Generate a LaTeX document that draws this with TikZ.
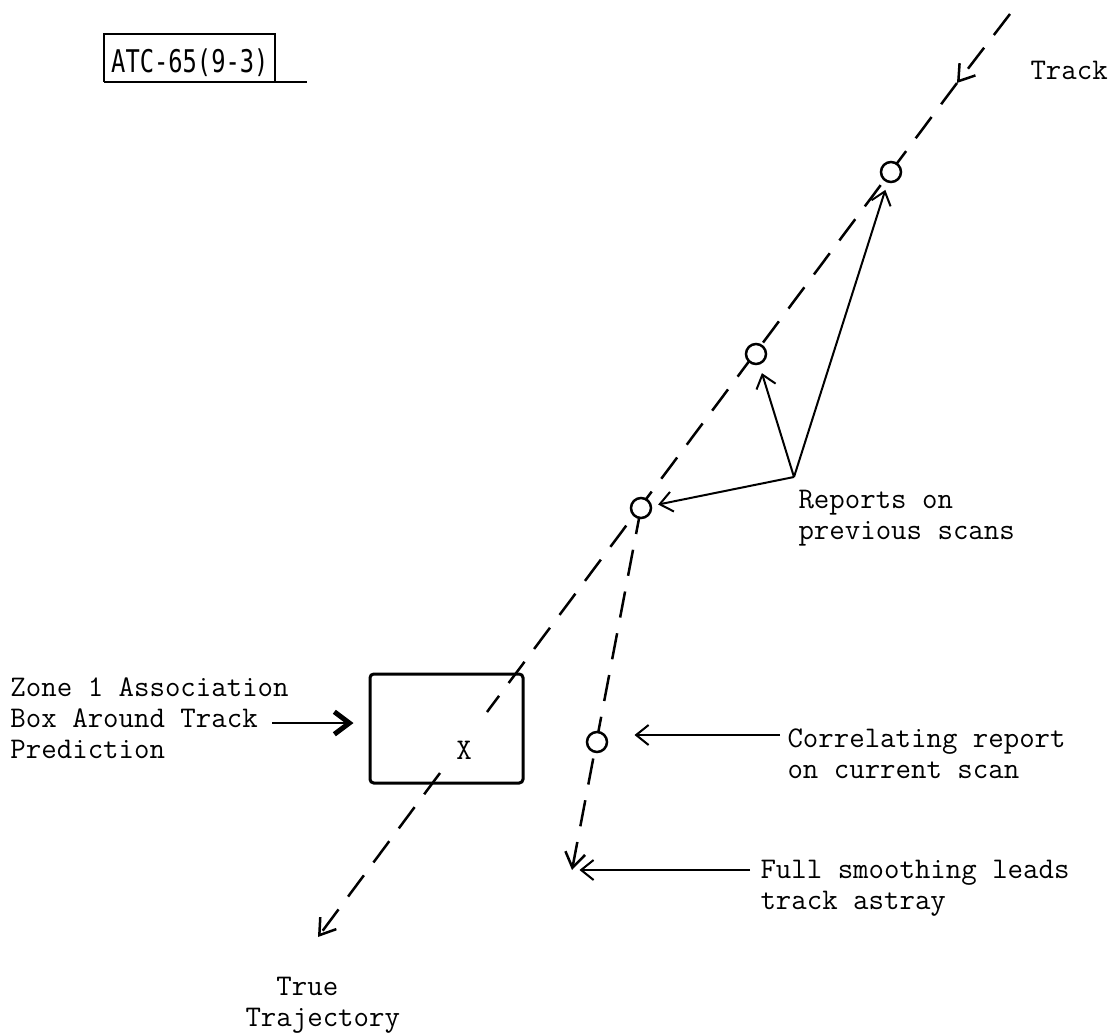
\documentclass[tikz,border=0pt]{standalone}
\usepackage{fontspec}
\newfontfamily\tagfont{DejaVu Sans Mono}
\usetikzlibrary{arrows.meta}

\begin{document}
\begin{tikzpicture}[x=0.4pt, y=-0.4pt,
    tw/.style={font=\fontsize{12}{12.4}\selectfont\ttfamily, align=left, inner sep=0pt},
    track/.style={line width=1pt, dash pattern=on 10.6pt off 6.4pt},
    trkhead/.style={-{Straight Barb[length=6pt,width=8pt,line width=1pt]}},
    ptr/.style={line width=0.8pt, -{Straight Barb[length=5pt,width=8pt]}},
    rpt/.style={circle, draw, line width=1pt, fill=white, minimum size=8pt, inner sep=0pt}]

    \useasboundingbox (0,0) rectangle (1115,1034);

    % figure tag
    \node[font=\fontsize{12.5}{12.5}\selectfont\tagfont, inner sep=0pt, anchor=east] (tag) at (269,63)
        {\scalebox{0.76}[1]{ATC-65(9-3)}};
    \coordinate (tagtr) at (275,34);
    \coordinate (tagbr) at (307,82);
    \draw[line width=0.8pt] ([xshift=-2.5pt]tag.west |- tagbr) -- ([xshift=-2.5pt]tag.west |- tagtr)
        -- (tagtr) -- (tagtr |- tagbr);
    \draw[line width=0.8pt] ([xshift=-2.5pt]tag.west |- tagbr) -- (tagbr);

    % report positions
    \coordinate (p1) at (891,172);
    \coordinate (p2) at (756,354);
    \coordinate (p3) at (641,508);
    \coordinate (p4) at (597,742);

    % true trajectory / track (broken round the X)
    \coordinate (top)  at (1010,14);
    \coordinate (trk)  at (957,83);
    \coordinate (gapa) at (487,712);
    \coordinate (gapb) at (440,773);
    \coordinate (tend) at (318,937);
    \coordinate (send) at (572,870);
    \draw[track, trkhead] (top) -- (trk);
    \draw[track] (trk) -- (gapa);
    \draw[track, trkhead] (gapb) -- (tend);
    \draw[track, trkhead] (p3) -- (send);

    % association box
    \node[draw, line width=1.2pt, rounded corners=1.5pt, minimum width=61.2pt, minimum height=43.6pt,
          inner sep=0pt] (zbox) at (446.5,728.5) {};
    \node[tw] (xmark) at (464,750) {X};

    % reports
    \node[rpt] (r1) at (p1) {};
    \node[rpt] (r2) at (p2) {};
    \node[rpt] (r3) at (p3) {};
    \node[rpt] (r4) at (p4) {};

    % labels
    \node[tw, anchor=west] (lbltrack) at (1030,70) {Track};
    \node[tw, anchor=north west] (lblrep) at (798,490) {Reports on\\previous scans};
    \node[tw, anchor=north west] (lblcorr) at (787,728) {Correlating report\\on current scan};
    \node[tw, anchor=north west] (lblfull) at (760,860) {Full smoothing leads\\track astray};
    \node[tw, anchor=north west] (lblzone) at (10,677) {Zone 1 Association\\Box Around Track\\Prediction};
    \node[tw, anchor=north west] (lbltrue) at (245,977) {\ \ True\\Trajectory};

    % pointers
    \coordinate (rp)    at (794,477);
    \coordinate (zfrom) at (272,723);
    \coordinate (cfrom) at (780,735);
    \coordinate (ffrom) at (750,870);
    \draw[ptr, shorten >=3pt] (rp) -- (r1);
    \draw[ptr, shorten >=3.5pt] (rp) -- (r2);
    \draw[ptr, shorten >=2.5pt] (rp) -- (r3);
    \draw[ptr, shorten >=15pt] (cfrom) -- (r4 |- cfrom);
    \draw[ptr] (ffrom) -- ([xshift=3pt]send |- ffrom);
    \draw[line width=0.8pt, -{Straight Barb[length=6pt,width=9pt,line width=2pt]}, shorten >=6pt]
        (zfrom) -- (zbox.west |- zfrom);
\end{tikzpicture}
\end{document}
